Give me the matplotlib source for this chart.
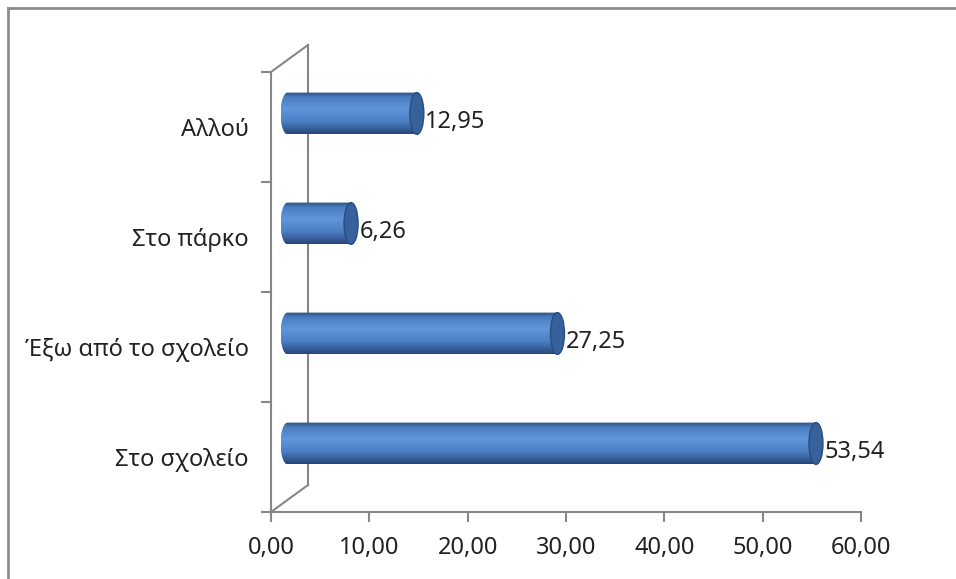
import numpy as np
import matplotlib.pyplot as plt
from matplotlib.colors import LinearSegmentedColormap
from matplotlib.patches import Ellipse, PathPatch
from matplotlib.path import Path
from matplotlib.lines import Line2D

categories = ["Στο σχολείο", "Έξω από το σχολείο", "Στο πάρκο", "Αλλού"]
values = [53.54, 27.25, 6.26, 12.95]
xticks = [0, 10, 20, 30, 40, 50, 60]

plt.rcParams['font.family'] = ['Noto Sans', 'DejaVu Sans']

W, H = 956, 579
fig = plt.figure(figsize=(W / 100, H / 100), dpi=100)
# axes box = front plane of the 3d chart (pixels 271..861 x, 72..512 y)
ax = fig.add_axes([271 / W, (H - 512) / H, 590 / W, 440 / H])
ax.set_xlim(0, 60)
ax.set_ylim(-0.5, 3.5)

grey = '#868686'
txt = '#222222'
for s in ['top', 'right']:
    ax.spines[s].set_visible(False)
for s in ['left', 'bottom']:
    ax.spines[s].set_color(grey)
    ax.spines[s].set_linewidth(1.5)

ax.set_xticks(xticks, labels=[f"{v:.2f}".replace('.', ',') for v in xticks])
ax.tick_params(axis='x', direction='out', length=7, width=1.5, color=grey,
               pad=10, labelsize=17, labelcolor=txt)
ax.set_yticks(np.arange(-0.5, len(categories), 1.0), labels=[])
ax.tick_params(axis='y', which='major', direction='out', length=7, width=1.5, color=grey)
ax.set_yticks(range(len(categories)), labels=categories, minor=True)
ax.tick_params(axis='y', which='minor', length=0, pad=16, labelsize=17,
               labelcolor=txt)

# depth of the 3d box in data units
ddx = 37 / 590 * 60
ddy = 27 / 110

# side wall
wall = dict(color=grey, lw=1.5, clip_on=False)
ax.add_line(Line2D([0, ddx], [3.5, 3.5 + ddy], **wall))
ax.add_line(Line2D([ddx, ddx], [3.5 + ddy, -0.5 + ddy], **wall))
ax.add_line(Line2D([0, ddx], [-0.5, -0.5 + ddy], **wall))

cmap = LinearSegmentedColormap.from_list(
    'cyl', [(0, '#2d5184'), (0.12, '#4a7dc0'), (0.4, '#6096da'),
            (0.7, '#4c7fc3'), (1.0, '#27467a')])
grad = np.linspace(0, 1, 100).reshape(-1, 1)

bh = 0.38
ew = 14 / 590 * 60
th = np.linspace(np.pi / 2, 3 * np.pi / 2, 40)
for i, v in enumerate(values):
    yc = i + ddy / 2
    xs = ddx / 2 - 0.2
    xe = v + ddx / 2
    y0, y1 = yc - bh / 2, yc + bh / 2
    pts = [(xe, y1), (xs, y1)]
    pts += [(xs + ew / 2 * np.cos(t), yc + bh / 2 * np.sin(t)) for t in th]
    pts += [(xs, y0), (xe, y0), (xe, y1)]
    clip = PathPatch(Path(pts, closed=True), transform=ax.transData,
                     fc='none', ec='none')
    ax.add_patch(clip)
    im = ax.imshow(grad, cmap=cmap, extent=[xs - ew / 2, xe, y0, y1],
                   aspect='auto', interpolation='bilinear', zorder=3)
    im.set_clip_path(clip)
    ax.add_patch(Ellipse((xe, yc), ew, bh, fc='#36619a', ec='#2a4c7e',
                         lw=1, zorder=4))
    ax.text(xe + ew / 2 + 0.15, yc - 0.08, f"{v:.2f}".replace('.', ','),
            ha='left', va='center', fontsize=17, color=txt)

# chart frame (left and top edges visible)
fig.add_artist(Line2D([8 / W, 8 / W], [0, 1 - 8 / H], transform=fig.transFigure,
                      color='#8c8c8c', lw=2))
fig.add_artist(Line2D([8 / W, 1], [1 - 8 / H, 1 - 8 / H], transform=fig.transFigure,
                      color='#8c8c8c', lw=2))

fig.savefig('out.png', dpi=100)
